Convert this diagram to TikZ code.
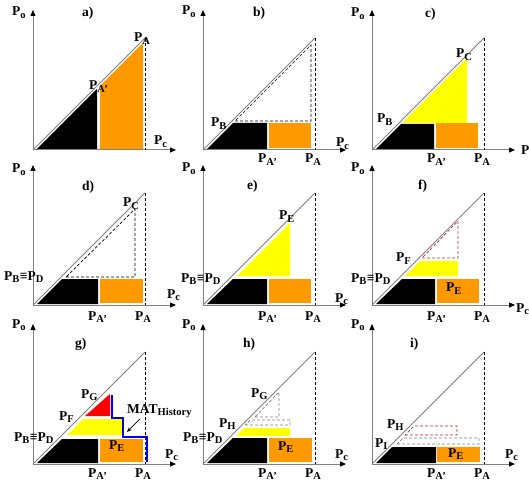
\documentclass[tikz,border=0pt]{standalone}
\usepackage{fontspec}
\setmainfont{Liberation Serif}
\usepackage{tikz}
\usetikzlibrary{arrows.meta}

\definecolor{fillorange}{RGB}{255,153,0}
\definecolor{fillyellow}{RGB}{255,255,0}
\definecolor{fillred}{RGB}{255,0,0}
\definecolor{stairblue}{RGB}{0,0,255}
\definecolor{olddashred}{RGB}{165,45,45}

% subscript at a fixed size
\newcommand{\ix}[1]{\textsubscript{\fontsize{10.5}{11}\selectfont #1}}

\begin{document}
\begin{tikzpicture}[x=1pt, y=1pt,
    axis/.style={draw=gray, line width=1pt, -{Triangle[length=6pt, width=5pt, black]}},
    diag/.style={draw=gray, line width=1pt},
    guide/.style={draw=black, line width=0.7pt, dash pattern=on 3pt off 2pt},
    oldred/.style={draw=olddashred, line width=0.7pt, dash pattern=on 3pt off 2pt},
    oldgray/.style={draw=gray, line width=0.7pt, dash pattern=on 3pt off 2pt},
    lbl/.style={inner sep=0pt, anchor=base west, font=\fontsize{13.5}{15}\selectfont\bfseries},
    pointer/.style={draw=black, line width=0.7pt, -{Stealth[length=5pt, width=4pt]}}]

    \useasboundingbox (0,0) rectangle (529,482);

    % Axes, diagonal and P_A guide of every panel
    \foreach \ox/\oy/\ty/\nm in {33/332/134/a, 203/332/135/b, 372/332/133/c,
                                 33/177/132/d, 203/177/133/e, 372/177/133/f,
                                 33/18/136/g, 203/18/136/h, 372/18/136/i}{
      \begin{scope}[shift={(\ox,\oy)}]
        \draw[axis] (0,0) -- (0,140);
        \draw[axis] (0,0) -- (143,0);
        \draw[diag] (0,0) -- (112,112);
        \draw[guide] (112,112) -- (112,0);
        \node[lbl] (\nm-po) at (-21,\ty) {P\ix{o}};
      \end{scope}
    }

    % P_A' and P_A under the axis (panels b to i)
    \foreach \ox/\oy/\nm in {203/319/b, 372/319/c, 33/162/d, 203/162/e, 372/162/f,
                             33/5/g, 203/5/h, 372/5/i}{
      \node[lbl] (\nm-pap) at (\ox+55,\oy) {P\ix{A'}};
      \node[lbl] (\nm-pa) at (\ox+102,\oy) {P\ix{A}};
    }

    % Panel a
    \begin{scope}[shift={(33,332)}]
      \fill[black] (4,1) -- (64,1) -- (64,61) -- cycle;
      \fill[fillorange] (67,1) -- (110,1) -- (110,107) -- (67,64) -- cycle;
      \node[lbl] (a-pap2) at (56,60) {P\ix{A'}};
      \node[lbl] (a-pa2) at (101,108) {P\ix{A}};
      \node[lbl] (a-pc) at (121,5) {P\ix{c}};
      \node[lbl] (a-tag) at (49,133) {a)};
    \end{scope}

    % Panel b
    \begin{scope}[shift={(203,332)}]
      \fill[black] (4,1) -- (64,1) -- (64,27) -- (30,27) -- cycle;
      \fill[fillorange] (66,2) -- (108,2) -- (108,27) -- (66,27) -- cycle;
      \draw[guide] (32,29) -- (108,29) -- (108,105) -- cycle;
      \node[lbl] (b-pb) at (8,23) {P\ix{B}};
      \node[lbl] (b-pc) at (133,3) {P\ix{c}};
      \node[lbl] (b-tag) at (50,133) {b)};
    \end{scope}

    % Panel c
    \begin{scope}[shift={(372,332)}]
      \fill[black] (4,1) -- (62,1) -- (62,26) -- (29,26) -- cycle;
      \fill[fillorange] (64,2) -- (106,2) -- (106,27) -- (64,27) -- cycle;
      \fill[fillyellow] (30,27) -- (95,27) -- (95,92) -- cycle;
      \node[lbl] (c-pcc) at (84,92) {P\ix{C}};
      \node[lbl] (c-pb) at (5,27) {P\ix{B}};
      \node[lbl] (c-pc) at (149,-5) {P\ix{c}};
      \node[lbl] (c-tag) at (53,132) {c)};
    \end{scope}

    % Panel d
    \begin{scope}[shift={(33,177)}]
      \fill[black] (4,1) -- (65,1) -- (65,26) -- (29,26) -- cycle;
      \fill[fillorange] (67,2) -- (110,2) -- (110,26) -- (67,26) -- cycle;
      \draw[guide] (33,28) -- (102,28) -- (102,96) -- cycle;
      \node[lbl] (d-pcc) at (90,98) {P\ix{C}};
      \node[lbl] (d-pbd) at (-29,25) {P\ix{B}≡P\ix{D}};
      \node[lbl] (d-pc) at (134,7) {P\ix{c}};
      \node[lbl] (d-tag) at (49,114) {d)};
    \end{scope}

    % Panel e
    \begin{scope}[shift={(203,177)}]
      \fill[black] (4,1) -- (64,1) -- (64,26) -- (30,26) -- cycle;
      \fill[fillorange] (66,2) -- (108,2) -- (108,26) -- (66,26) -- cycle;
      \fill[fillyellow] (34,29) -- (87,29) -- (87,82) -- cycle;
      \node[lbl] (e-pe) at (76,85) {P\ix{E}};
      \node[lbl] (e-pbd) at (-22,23) {P\ix{B}≡P\ix{D}};
      \node[lbl] (e-pc) at (132,3) {P\ix{c}};
      \node[lbl] (e-tag) at (44,115) {e)};
    \end{scope}

    % Panel f
    \begin{scope}[shift={(372,177)}]
      \fill[black] (4,1) -- (63,1) -- (63,26) -- (30,26) -- cycle;
      \fill[fillorange] (65,2) -- (107,2) -- (107,26) -- (65,26) -- cycle;
      \fill[fillyellow] (33,29) -- (86,29) -- (86,44) -- (48,44) -- cycle;
      \draw[oldred] (50,47) -- (86,47) -- (86,84) -- cycle;
      \node[lbl] (f-pf) at (24,43) {P\ix{F}};
      \node[lbl] (f-pe) at (74,13) {P\ix{E}};
      \node[lbl] (f-pbd) at (-21,23) {P\ix{B}≡P\ix{D}};
      \node[lbl] (f-pc) at (144,-7) {P\ix{c}};
      \node[lbl] (f-tag) at (46,115) {f)};
    \end{scope}

    % Panel g
    \begin{scope}[shift={(33,18)}]
      \fill[black] (4,1) -- (65,1) -- (65,25) -- (29,25) -- cycle;
      \fill[fillorange] (67,2) -- (110,2) -- (110,25) -- (67,25) -- cycle;
      \fill[fillyellow] (34,29) -- (89,29) -- (89,45) -- (50,45) -- cycle;
      \fill[fillred] (52,48) -- (77,48) -- (77,70) -- cycle;
      \draw[stairblue, line width=1.6pt] (79,69) -- (79,46) -- (90,46) -- (90,27)
        -- (114,27) -- (114,2);
      \node[lbl] (mat) at (94,51) {MAT\ix{History}};
      \coordinate (g-tip) at (94,32);
      \draw[pointer] ([xshift=13pt, yshift=-1pt]mat.south west) -- (g-tip);
      \node[lbl] (g-pg) at (48,66) {P\ix{G}};
      \node[lbl] (g-pf) at (26,44) {P\ix{F}};
      \node[lbl] (g-pe) at (76,15) {P\ix{E}};
      \node[lbl] (g-pbd) at (-19,23) {P\ix{B}≡P\ix{D}};
      \node[lbl] (g-pc) at (132,6) {P\ix{c}};
      \node[lbl] (g-tag) at (42,117) {g)};
    \end{scope}

    % Panel h
    \begin{scope}[shift={(203,18)}]
      \fill[black] (4,1) -- (64,1) -- (64,26) -- (30,26) -- cycle;
      \fill[fillorange] (66,2) -- (109,2) -- (109,26) -- (66,26) -- cycle;
      \fill[fillyellow] (33,28) -- (87,28) -- (87,36) -- (41,36) -- cycle;
      \draw[oldgray] (42,39) -- (87,39) -- (87,44) -- (47,44) -- cycle;
      \draw[oldgray] (52,47) -- (76,47) -- (76,72) -- cycle;
      \node[lbl] (h-pg) at (48,67) {P\ix{G}};
      \node[lbl] (h-ph) at (16,37) {P\ix{H}};
      \node[lbl] (h-pe) at (75,14) {P\ix{E}};
      \node[lbl] (h-pbd) at (-20,23) {P\ix{B}≡P\ix{D}};
      \node[lbl] (h-pc) at (132,6) {P\ix{c}};
      \node[lbl] (h-tag) at (40,117) {h)};
    \end{scope}

    % Panel i
    \begin{scope}[shift={(372,18)}]
      \fill[black] (4,1) -- (64,1) -- (64,17) -- (20,17) -- cycle;
      \fill[fillorange] (65,2) -- (108,2) -- (108,17) -- (65,17) -- cycle;
      \draw[oldgray] (25,20) -- (107,20) -- (107,26) -- (31,26) -- cycle;
      \draw[oldred] (33,29) -- (85,29) -- (85,38) -- (42,38) -- cycle;
      \node[lbl] (i-ph) at (15,36) {P\ix{H}};
      \node[lbl] (i-pi) at (3,17) {P\ix{I}};
      \node[lbl] (i-pe) at (76,7) {P\ix{E}};
      \node[lbl] (i-pc) at (133,6) {P\ix{c}};
      \node[lbl] (i-tag) at (38,117) {i)};
    \end{scope}
\end{tikzpicture}
\end{document}
